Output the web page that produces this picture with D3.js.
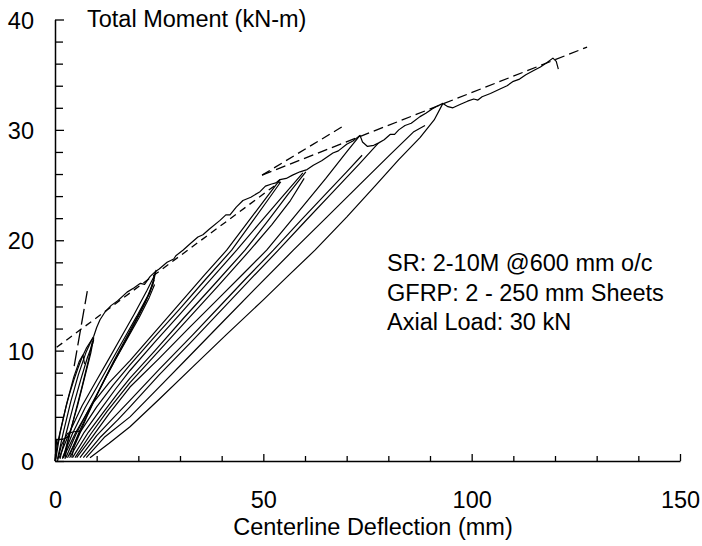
<!DOCTYPE html>
<html>
<head>
<meta charset="utf-8">
<script src="https://cdn.jsdelivr.net/npm/d3@7"></script>
<style>
body { margin: 0; background: #fff; }
text { font-family: "Liberation Sans", Arial, sans-serif; fill: #000; }
</style>
</head>
<body>
<script>
// ticks
var xMajor = [0, 50, 100, 150];
var xMinor = [10, 20, 30, 40, 60, 70, 80, 90, 110, 120, 130, 140];
var yMajor = [0, 10, 20, 30, 40];
var yMinor = [2, 4, 6, 8, 12, 14, 16, 18, 22, 24, 26, 28, 32, 34, 36, 38];

// main loading curve (deflection mm, moment kN-m)
var envelope = [[0,0],[0.6,1.6],[1.5,3.1],[2.5,4.7],[3.5,6.1],[4.5,7.3],[5.5,8.4],[6.5,9.4],[7.5,10.2],[8.5,10.8],[9.3,11.3],[10,12.1],[10.8,12.8],[12,13.5],[13.5,14.1],[15,14.5],[17.3,15.3],[19,15.7],[20.5,16.1],[21.5,16.0],[22.8,16.7],[24.2,17.2],[25,17.4],[26.9,18.0],[28.5,18.3],[29,18.6],[30.7,19.1],[32.5,19.7],[34.3,20.3],[35.5,20.5],[37,21.0],[39.6,21.8],[41,22.3],[42,22.3],[43.5,23.0],[45.1,23.6],[47,23.9],[49.2,24.4],[50.5,24.9],[52,25.1],[53,25.2],[54,25.5],[55.5,25.6],[57,25.9],[58.8,26.2],[60.5,26.4],[62,26.8],[64,27.2],[66.7,27.9],[68,28.1],[70,28.7],[71.5,29.0],[73.2,29.5],[73.8,28.9],[75,28.5],[76.5,28.6],[77.6,28.8],[79,29.1],[80.5,29.6],[81.5,29.6],[82.5,30.0],[84,30.4],[85.5,30.6],[87.6,31.2],[89,31.5],[90.5,31.9],[92,32.2],[93.1,32.4],[94.3,32.1],[95.5,32.0],[97.2,32.3],[99,32.6],[100.5,32.8],[101.5,32.7],[102.5,33.0],[104.5,33.3],[106.8,33.7],[108.5,34.0],[110,34.4],[111.5,34.6],[113,35.0],[115,35.4],[116.5,35.7],[118.1,36.1],[119.5,36.5],[120.3,36.2],[120.8,35.5]];

// small early cycles
var cycleA1 = [[0,0],[0.2,1.0],[0.4,1.9],[2.2,2.0],[3.5,2.3]];
var cycleA2 = [[0.6,0],[1.5,1.4],[3,2.5],[4.5,2.65],[6.0,2.7]];

// cycles to about 11 kN-m
var cycleB1 = [[0.2,0.2],[1.2,2.5],[2.8,5.2],[4.5,7.6],[5.8,9.0],[6.7,9.6],[7.1,8.8]];
var cycleB2 = [[0.6,0.2],[2,2.6],[3.8,5.4],[5.6,7.8],[7.4,9.8],[8.6,10.8],[9.2,11.2]];
var cycleB3 = [[1.2,0.2],[2.6,2.4],[4.4,5.0],[6.2,7.4],[7.8,9.4],[9.0,10.6],[9.3,11.0]];
var cycleB4 = [[9.3,11.2],[8.6,9.8],[7.2,7.7],[5.4,5.0],[3.6,2.6],[2.2,0.6],[1.8,0.2]];
var cycleB5 = [[9.0,10.9],[8.0,9.1],[6.4,6.6],[4.6,4.0],[3.0,1.6],[2.4,0.2]];

// cycles to about 17 kN-m
var cycleC1 = [[1.0,0.3],[3.5,2.6],[6.5,5.0],[9.5,7.0],[13,9.3],[16,11.3],[19,13.3],[22,15.4],[23.6,16.6],[24.3,17.3]];
var cycleC2 = [[1.8,0.3],[4.2,2.5],[7.2,4.8],[10.2,6.8],[13.6,9.1],[16.6,11.1],[19.6,13.1],[22.3,15.0],[23.8,16.4]];
var cycleC3 = [[2.6,0.3],[5,2.4],[8,4.6],[11,6.7],[14.2,9.0],[17.2,11.0],[20.2,13.0],[22.6,14.8],[23.9,16.0]];
var cycleC4 = [[24.2,17.2],[23.5,16.0],[21.5,14.2],[18.5,12.0],[15.4,9.8],[12.2,7.6],[9,5.2],[6,2.8],[3.5,0.5]];
var cycleC5 = [[23.9,16.8],[22.8,15.3],[20,13.2],[17,11.1],[14,9.0],[10.8,6.6],[7.5,3.9],[4.6,1.3],[4.0,0.3]];

// cycles to 25-26 kN-m
var cycleD1 = [[2.0,0.3],[5,2.6],[9,5.2],[13,7.1],[18,9.1],[24,11.7],[30,14.3],[36,16.9],[41.2,19.1],[46,21.5],[50,23.5],[54,25.5]];
var cycleD2 = [[3.0,0.3],[6,2.6],[10,4.9],[14,6.9],[18,8.7],[24,11.3],[30,13.8],[36,16.4],[42.4,19.1],[47,21.5],[51,23.6],[54.2,25.3]];
var cycleE1 = [[3.5,0.3],[7,2.6],[11,4.7],[14.5,6.5],[18,8.2],[24,10.8],[30,13.3],[37,16.3],[43.6,19.1],[49,21.5],[54,23.7],[59.5,26.1]];
var cycleE2 = [[4.2,0.3],[8,2.6],[12,4.6],[15,6.1],[18,7.5],[24,10.0],[31,13.0],[38,15.9],[45.6,19.1],[51,21.7],[56,24.2],[60.2,26.2]];
var cycleE3 = [[4.8,0.3],[8.5,2.4],[12.5,4.5],[18,7.1],[25,10.0],[32,12.9],[39,15.8],[46.8,19.1],[52,21.4],[56.5,23.6],[59.8,25.6]];

// cycles to about 29 kN-m
var cycleF1 = [[5.2,0.3],[9,2.2],[13,4.3],[18,6.7],[25,9.3],[32,12.0],[40,15.0],[45,16.9],[50.8,19.1],[58,22.4],[65,25.6],[70,28.0],[73.2,29.5]];
var cycleF2 = [[6.0,0.3],[10,2.3],[14,3.9],[18,5.5],[25,8.3],[33,11.4],[40,14.2],[46,16.6],[52.4,19.1],[59,21.8],[65,24.2],[70,26.2],[73.7,27.7]];
var cycleF3 = [[6.8,0.3],[11,2.2],[15,3.7],[18,4.9],[25,7.8],[33,10.9],[41,14.1],[47,16.5],[53.6,19.1],[60,21.7],[67,24.5],[73,26.9],[77.6,28.8]];

// cycles to about 32 kN-m
var cycleG1 = [[7.5,0.3],[12,2.2],[18,4.0],[25,6.7],[32,9.4],[40,12.5],[48,15.6],[57.2,19.1],[65,22.0],[73,25.0],[80,27.6],[86,29.8],[88.8,30.4]];
var cycleG2 = [[8.4,0.3],[13,1.6],[18,3.1],[25,5.6],[33,8.5],[41,11.4],[50,14.6],[56,16.8],[62.4,19.1],[70,22.1],[77,25.0],[82.5,27.3],[87.6,29.3],[91,30.9],[93.1,32.4]];

// dashed reference lines
var dashShort = [[0.4,10.3],[54,25.3]];
var dashLong = [[4.6,8.6],[7.75,15.4]];
var dashUpper1 = [[49.7,25.9],[69,30.3]];
var dashUpper2 = [[49.7,25.9],[127.7,37.5]];

var notes = ["SR: 2-10M @600 mm o/c", "GFRP: 2 - 250 mm Sheets", "Axial Load: 30 kN"];

var svg = d3.select("body").append("svg")
    .attr("width", 702)
    .attr("height", 546);

var x = d3.scaleLinear().domain([0, 150]).range([55, 680]);
var y = d3.scaleLinear().domain([0, 40]).range([461, 19.5]);

var line = d3.line()
    .x(function(d) { return x(d[0]); })
    .y(function(d) { return y(d[1]); });

// minor ticks
svg.append("g")
    .attr("transform", "translate(0,461)")
    .call(d3.axisBottom(x).tickValues(xMinor).tickSizeInner(-5).tickSizeOuter(0).tickFormat(""))
    .call(function(g) { g.select(".domain").remove(); });
svg.append("g")
    .attr("transform", "translate(55,0)")
    .call(d3.axisLeft(y).tickValues(yMinor).tickSizeInner(-8).tickSizeOuter(0).tickFormat(""))
    .call(function(g) { g.select(".domain").remove(); });

// major ticks + labels
var xAxis = svg.append("g")
    .attr("transform", "translate(0,461)")
    .call(d3.axisBottom(x).tickValues(xMajor).tickSizeInner(-7).tickSizeOuter(0).tickPadding(30));
var yAxis = svg.append("g")
    .attr("transform", "translate(55,0)")
    .call(d3.axisLeft(y).tickValues(yMajor).tickSizeInner(-9).tickSizeOuter(0).tickPadding(21));

svg.selectAll(".tick line").attr("stroke", "#000").attr("stroke-width", 1.3);
svg.selectAll(".domain").attr("stroke", "#000").attr("stroke-width", 1.5);
svg.selectAll(".tick text").attr("fill", "#000").style("font-size", "23.5px")
    .style("font-family", "'Liberation Sans', Arial, sans-serif");
yAxis.selectAll(".tick text").attr("dy", "0.37em");

// curves
var solid = [envelope, cycleA1, cycleA2, cycleB1, cycleB2, cycleB3, cycleB4, cycleB5,
  cycleC1, cycleC2, cycleC3, cycleC4, cycleC5, cycleD1, cycleD2, cycleE1, cycleE2, cycleE3,
  cycleF1, cycleF2, cycleF3, cycleG1, cycleG2];

svg.selectAll(".curve")
    .data(solid)
    .enter().append("path")
    .attr("class", "curve")
    .attr("d", line)
    .attr("fill", "none")
    .attr("stroke", "#000")
    .attr("stroke-width", 1.2)
    .attr("stroke-linejoin", "round");

var dashed = [
  {pts: dashShort, dash: "7,5"},
  {pts: dashLong, dash: "16,5"},
  {pts: dashUpper1, dash: "9,5"},
  {pts: dashUpper2, dash: "10,5"}
];
svg.selectAll(".dash")
    .data(dashed)
    .enter().append("path")
    .attr("class", "dash")
    .attr("d", function(d) { return line(d.pts); })
    .attr("fill", "none")
    .attr("stroke", "#000")
    .attr("stroke-width", 1.3)
    .attr("stroke-dasharray", function(d) { return d.dash; });

// titles
svg.append("text")
    .attr("x", 87).attr("y", 27)
    .style("font-size", "23.5px")
    .text("Total Moment (kN-m)");

svg.append("text")
    .attr("x", 373).attr("y", 535)
    .style("text-anchor", "middle")
    .style("font-size", "23.5px")
    .text("Centerline Deflection (mm)");

svg.selectAll(".note")
    .data(notes)
    .enter().append("text")
    .attr("class", "note")
    .attr("x", 387)
    .attr("y", function(d, i) { return 271 + i * 29.5; })
    .style("font-size", "23.5px")
    .text(function(d) { return d; });
</script>
</body>
</html>
